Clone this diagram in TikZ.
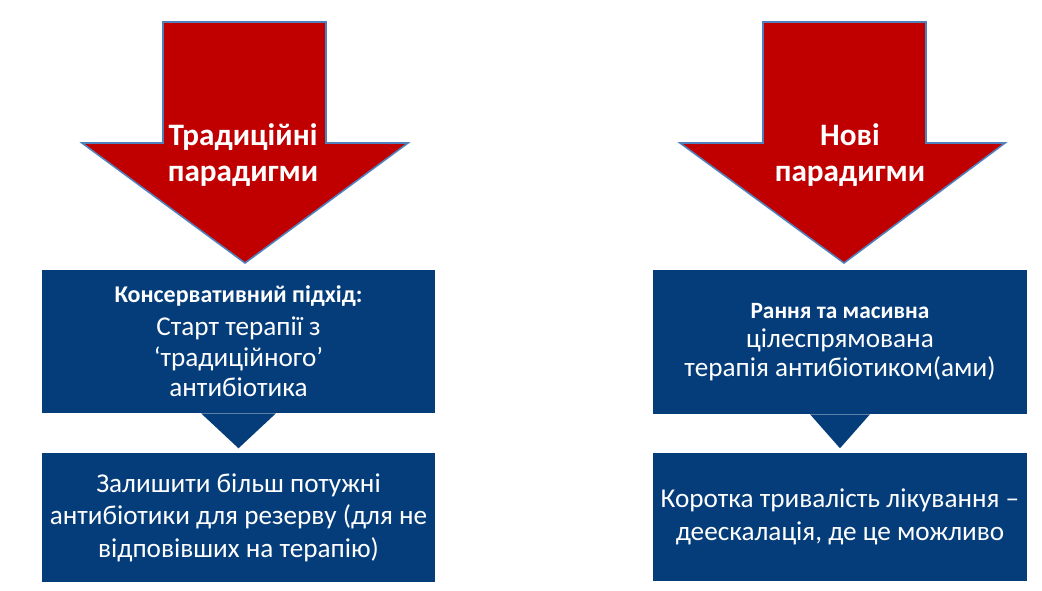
\documentclass[tikz,border=0pt]{standalone}
\usepackage{fontspec}
\setmainfont{Carlito}
\usepackage{tikz}
\usetikzlibrary{positioning}

\begin{document}
\begin{tikzpicture}[x=0.75pt, y=-0.75pt]
    \definecolor{my_red}{HTML}{C00000}
    \definecolor{my_blue}{HTML}{053D7B}
    \definecolor{my_edge}{HTML}{4F81BD}
    \tikzstyle{every node}=[text = white, align = center, inner sep = 0pt]
    \tikzstyle{box}=[fill = my_blue, font = \fontsize{20.4}{24.4}\selectfont]
    \tikzstyle{paradigm}=[fill = my_red, draw = my_edge, line width = 1.2pt, line join = miter]
    \useasboundingbox (0,0) rectangle (1042,591);

    % arrows
    \draw[paradigm] (163,22) -- (326,22) -- (326,143) -- (408,143) -- (245,263) -- (82,143) -- (163,143) -- cycle;
    \draw[paradigm] (763,22) -- (926,22) -- (926,143) -- (1005,143) -- (844,263) -- (680,143) -- (763,143) -- cycle;
    \node[font = \fontsize{23.4}{27}\selectfont\bfseries] (old) at (243,155) {Традиційні\\парадигми};
    \node[font = \fontsize{23.4}{27}\selectfont\bfseries] (new) at (850,155) {Нові\\парадигми};

    % boxes
    \node[box, font = \fontsize{20.4}{22.8}\selectfont, minimum width = 294.75pt, minimum height = 107.25pt] (conservative) at (238.5,341.5)
        {{\fontsize{18}{22}\selectfont\bfseries Консервативний підхід:}\\[2pt]Старт терапії з\\‘традиційного’\\антибіотика};
    \node[box, minimum width = 294.75pt, minimum height = 96.75pt] (reserve) at (238.5,517.5)
        {Залишити більш потужні\\антибіотики для резерву (для не\\відповівших на терапію)};
    \node[box, font = \fontsize{20.4}{21.5}\selectfont, minimum width = 280.5pt, minimum height = 108pt] (early) at (840,342)
        {{\fontsize{17.5}{21}\selectfont\bfseries Рання та масивна}\\цілеспрямована\\терапія антибіотиком(ами)};
    \node[box, minimum width = 280.5pt, minimum height = 96pt] (short) at (840,517)
        {Коротка тривалість лікування –\\деескалація, де це можливо};

    % pointers
    \fill[my_blue] (conservative.south) ++(-37.5,0) -- ++(37.5,35) -- ++(37.5,-35) -- cycle;
    \fill[my_blue] (early.south) ++(-30,0) -- ++(30,34) -- ++(30,-34) -- cycle;
\end{tikzpicture}
\end{document}
